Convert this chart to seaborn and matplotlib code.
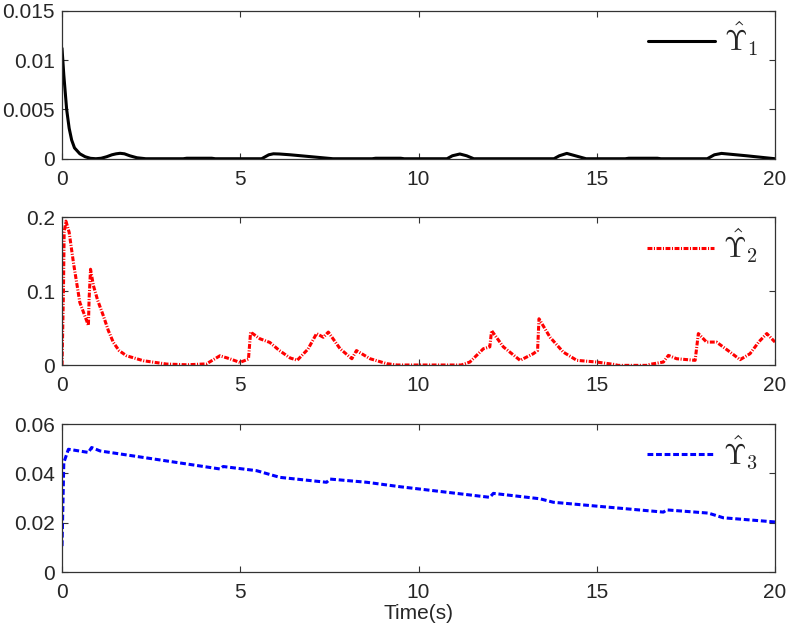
import numpy as np
import pandas as pd
import seaborn as sns
import matplotlib.pyplot as plt

# Curva 1 (preta, contínua)
t1 = [0, 0.05, 0.13, 0.2, 0.27, 0.35, 0.5, 0.65, 0.8, 0.95, 1.1, 1.25, 1.4, 1.52, 1.63, 1.75, 1.9, 2.1, 2.35,
      3.4, 3.5, 4.2, 4.3, 5.6, 5.7, 5.8, 5.93, 6.1, 6.4, 6.7, 7.0, 7.3, 7.6,
      8.7, 8.8, 9.5, 9.6, 10.8, 10.95, 11.16, 11.35, 11.55, 13.8, 13.95, 14.16, 14.4, 14.7,
      15.8, 15.9, 16.7, 16.8, 18.1, 18.3, 18.5, 19.2, 20]
v1 = [0.0112, 0.0085, 0.0050, 0.0031, 0.0019, 0.0011, 0.0005, 0.0002, 0.00004, 0.0, 0.00005, 0.0002, 0.0004, 0.0005, 0.00055, 0.0005, 0.0003, 0.0001, 0.0,
      0.0, 0.00005, 0.00005, 0.0, 0.0, 0.0002, 0.0004, 0.0005, 0.00048, 0.0004, 0.0003, 0.0002, 0.0001, 0.0,
      0.0, 0.00005, 0.00005, 0.0, 0.0, 0.0003, 0.00048, 0.0003, 0.0, 0.0, 0.0003, 0.00054, 0.0003, 0.0,
      0.0, 0.00005, 0.00005, 0.0, 0.0, 0.0004, 0.00054, 0.0003, 0.0]

# Curva 2 (vermelha, traço-ponto)
t2 = [0, 0.04, 0.06, 0.11, 0.2, 0.32, 0.5, 0.74, 0.76, 0.8, 0.88, 1.0, 1.16, 1.3, 1.44, 1.6, 1.81, 2.28, 2.93, 3.5,
      4.05, 4.43, 4.7, 4.99, 5.23, 5.29, 5.55, 5.83, 6.1, 6.4, 6.6, 6.9, 7.14, 7.33, 7.47, 7.8, 8.13, 8.2, 8.26,
      8.64, 9.11, 9.4, 11.2, 11.44, 11.82, 12.0, 12.05, 12.38, 12.85, 13.22, 13.34, 13.38, 13.69, 14.06,
      14.44, 15.0, 15.47, 15.6, 16.4, 16.49, 16.87, 17.01, 17.24, 17.76, 17.85, 18.08, 18.36, 18.74, 19.02,
      19.3, 19.55, 19.77, 20.0]
v2 = [0.0, 0.1, 0.18, 0.195, 0.18, 0.139, 0.085, 0.054, 0.09, 0.13, 0.108, 0.088, 0.067, 0.047, 0.031, 0.02, 0.013, 0.0063, 0.0018, 0.0008,
      0.002, 0.013, 0.009, 0.004, 0.0085, 0.045, 0.036, 0.031, 0.02, 0.01, 0.007, 0.022, 0.043, 0.038, 0.045, 0.0225, 0.009, 0.015, 0.02,
      0.009, 0.0023, 0.0005, 0.0005, 0.0045, 0.0225, 0.025, 0.047, 0.025, 0.0068, 0.0158, 0.02, 0.063, 0.038, 0.018,
      0.0068, 0.0045, 0.0014, 0.0, 0.0, 0.0014, 0.0045, 0.0135, 0.009, 0.0068, 0.043, 0.0315, 0.0315, 0.018, 0.0077,
      0.0158, 0.032, 0.043, 0.0315]

# Curva 3 (azul, tracejada)
t3 = [0, 0.05, 0.18, 0.74, 0.83, 1.07, 2.5, 4.43, 4.52, 5.46, 6.11, 7.42, 7.52, 8.55, 9.48, 12.0, 12.1, 13.41, 13.78,
      16.87, 16.96, 18.13, 18.55, 20.0]
v3 = [0.0105, 0.0444, 0.0498, 0.0485, 0.0505, 0.0491, 0.0460, 0.0418, 0.0428, 0.0411, 0.0384, 0.0364, 0.0377, 0.0364, 0.0346, 0.0303, 0.0319, 0.0297, 0.0283,
      0.0243, 0.0252, 0.0239, 0.0220, 0.0203]

sns.set_style("ticks")
plt.rcParams['font.family'] = ['Liberation Sans', 'DejaVu Sans']
plt.rcParams['mathtext.fontset'] = 'cm'

fig, axes = plt.subplots(3, 1, figsize=(7.88, 6.36), dpi=100)
fig.subplots_adjust(left=0.0787, right=0.9835, top=0.983, bottom=0.1006, hspace=0.397)

series = [
    (t1, v1, 'black', '-', r'$\hat{\Upsilon}_1$', [0, 0.005, 0.01, 0.015], ['0', '0.005', '0.01', '0.015']),
    (t2, v2, 'red', (0, (1.6, 0.5, 0.35, 0.5)), r'$\hat{\Upsilon}_2$', [0, 0.1, 0.2], ['0', '0.1', '0.2']),
    (t3, v3, 'blue', (0, (1.9, 0.9)), r'$\hat{\Upsilon}_3$', [0, 0.02, 0.04, 0.06], ['0', '0.02', '0.04', '0.06']),
]

for ax, (t, v, cor, estilo, rotulo, yt, ytl) in zip(axes, series):
    df = pd.DataFrame({'t': t, 'v': v})
    sns.lineplot(data=df, x='t', y='v', ax=ax, color=cor, linestyle=estilo, linewidth=2.2,
                 label=rotulo, estimator=None, sort=False)
    ax.set_xlim(0, 20)
    ax.set_ylim(yt[0], yt[-1])
    ax.set_xticks([0, 5, 10, 15, 20])
    ax.set_xticklabels(['0', '5', '10', '15', '20'])
    ax.set_yticks(yt)
    ax.set_yticklabels(ytl)
    ax.tick_params(direction='in', top=True, right=True, length=4, width=0.8, labelsize=15, color='#333333')
    ax.tick_params(axis='x', pad=8)
    ax.tick_params(axis='y', pad=5)
    for s in ax.spines.values():
        s.set_linewidth(0.9)
        s.set_color('#333333')
    ax.set_xlabel('')
    ax.set_ylabel('')
    ax.legend(loc='upper right', bbox_to_anchor=(1.005, 1.075), frameon=False, fontsize=21,
              handlelength=2.3, handletextpad=0.3, borderaxespad=0.3)

axes[2].set_xlabel('Time(s)', fontsize=15, labelpad=1)

fig.savefig('out.png', dpi=100)
